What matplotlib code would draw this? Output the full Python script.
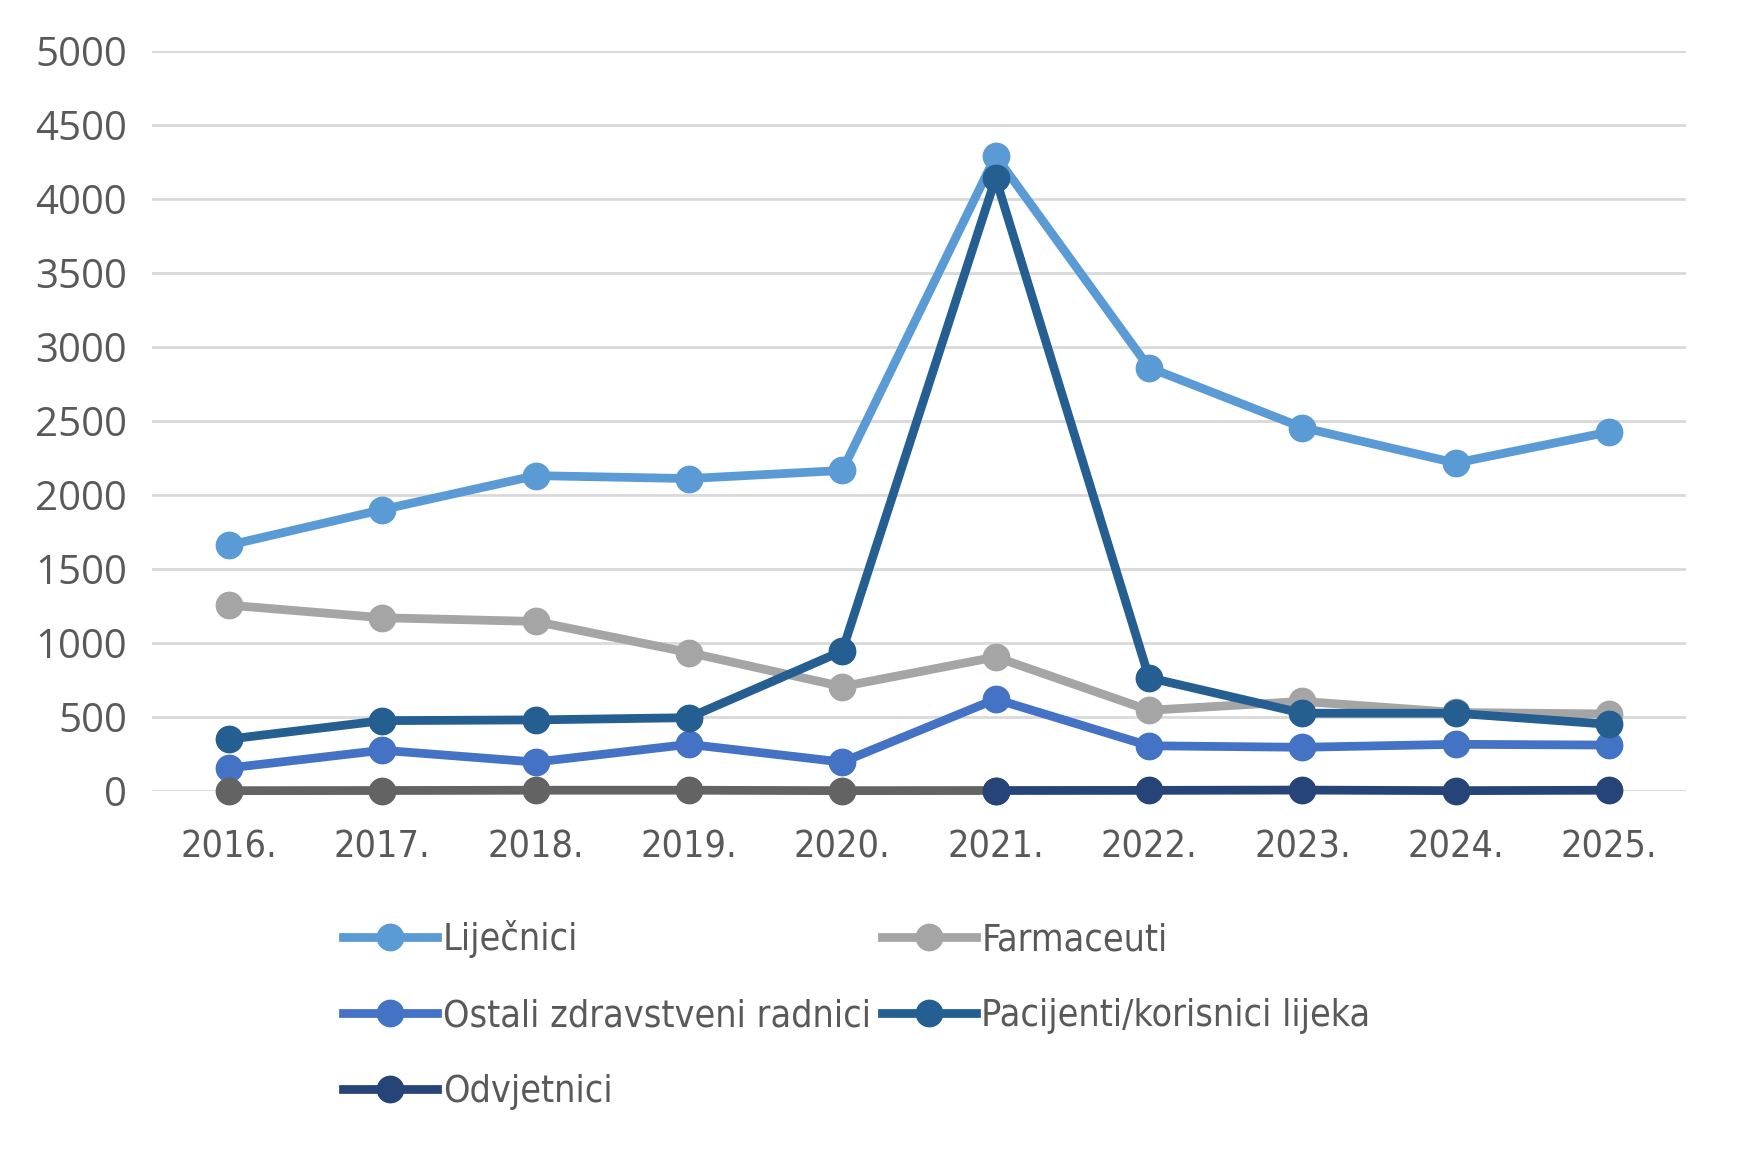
import numpy as np
import matplotlib
matplotlib.use("Agg")
import matplotlib.pyplot as plt

# Daten
godine = ["2016.", "2017.", "2018.", "2019.", "2020.", "2021.", "2022.", "2023.", "2024.", "2025."]
lijecnici = [1660, 1900, 2130, 2110, 2165, 4290, 2860, 2455, 2215, 2425]
farmaceuti = [1255, 1170, 1145, 935, 705, 905, 545, 605, 530, 520]
ostali = [155, 275, 195, 315, 195, 620, 305, 295, 315, 310]
pacijenti = [350, 475, 480, 495, 945, 4140, 765, 525, 525, 450]
odvjetnici = [2, 3, 5, 5, 2, 3, 4, 6, 2, 5]

txt_col = "#595959"
cond = {"family": "DejaVu Sans", "stretch": "condensed", "size": 27}

fig = plt.figure(figsize=(17.38, 11.53), dpi=100)
ax = fig.add_axes([0.0875, 0.314, 0.8825, 0.642])

x = np.arange(len(godine))
lw = 6.3
ms = 19
stil = dict(lw=lw, marker="o", ms=ms, clip_on=False)

l1, = ax.plot(x, lijecnici, color="#5B9BD5", label="Liječnici", zorder=3, **stil)
l2, = ax.plot(x, farmaceuti, color="#A5A5A5", label="Farmaceuti", zorder=3, **stil)
l3, = ax.plot(x, ostali, color="#4472C4", label="Ostali zdravstveni radnici", zorder=3, **stil)
l4, = ax.plot(x, pacijenti, color="#255E91", label="Pacijenti/korisnici lijeka", zorder=4, **stil)
# Odvjetnici: 2016.-2020. sivo, od 2021. tamnoplavo
ax.plot(x[:6], odvjetnici[:6], color="#636363", zorder=3, **stil)
ax.plot(x[5:], odvjetnici[5:], color="#264478", zorder=3, **stil)
l5, = ax.plot([], [], color="#264478", label="Odvjetnici", **stil)

ax.set_xlim(-0.5, len(godine) - 0.5)
ax.set_ylim(0, 5000)
ax.set_yticks(np.arange(0, 5001, 500))
ax.set_xticks(x)
ax.set_xticklabels(godine, fontdict=cond, color=txt_col)
for t in ax.get_yticklabels():
    t.set_family("Open Sans")
    t.set_fontsize(29)
    t.set_color(txt_col)

ax.grid(axis="y", color="#D9D9D9", lw=2)
ax.set_axisbelow(True)
for s in ax.spines.values():
    s.set_visible(False)
ax.tick_params(length=0)
ax.tick_params(axis="x", pad=28)
ax.tick_params(axis="y", pad=18)

leg = fig.legend(handles=[l1, l3, l5, l2, l4], ncol=2, loc="upper left",
                 bbox_to_anchor=(0.189, 0.215), frameon=False,
                 prop=cond, handlelength=2.5,
                 handletextpad=0.15, columnspacing=0.3, labelspacing=1.07,
                 borderaxespad=0)
for t in leg.get_texts():
    t.set_color(txt_col)

fig.savefig("out.png", dpi=100)
